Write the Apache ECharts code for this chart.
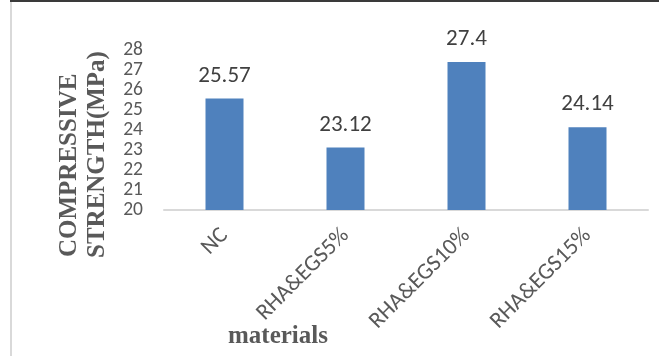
<!DOCTYPE html>
<html>
<head>
<meta charset="utf-8">
<script src="https://cdn.jsdelivr.net/npm/echarts@6/dist/echarts.min.js"></script>
<style>
  html, body { margin: 0; padding: 0; background: #fff; }
  #chart { width: 659px; height: 356px; }
</style>
</head>
<body>
<div id="chart"></div>
<script>
// Compressive strength per mix
const categories = ['NC', 'RHA&EGS5%', 'RHA&EGS10%', 'RHA&EGS15%'];
const strength = [25.57, 23.12, 27.4, 24.14];
const yTicks = { min: 20, max: 28, step: 1 };
const yTitleLines = ['COMPRESSIVE', 'STRENGTH(MPa)'];
const xTitle = 'materials';

const sans = "Carlito, 'Open Sans', sans-serif";
const serif = "'Liberation Serif', 'Times New Roman', serif";

const chart = echarts.init(document.getElementById('chart'), null, { renderer: 'canvas' });

chart.setOption({
  backgroundColor: '#ffffff',
  animation: false,
  grid: { left: 164, right: 11, top: 50, bottom: 146, containLabel: false },
  xAxis: {
    type: 'category',
    data: categories,
    axisLine: { show: true, lineStyle: { color: '#d9d9d9', width: 2 } },
    axisTick: { show: false },
    axisLabel: {
      rotate: 45,
      margin: 22,
      color: '#595959',
      fontFamily: sans,
      fontSize: 23,
      interval: 0
    },
    splitLine: { show: false }
  },
  yAxis: {
    type: 'value',
    min: yTicks.min,
    max: yTicks.max,
    interval: yTicks.step,
    axisLine: { show: false },
    axisTick: { show: false },
    splitLine: { show: false },
    axisLabel: {
      margin: 21,
      showMinLabel: true,
      showMaxLabel: true,
      color: '#595959',
      fontFamily: sans,
      // kept just under the 20px tick spacing so every label stays visible
      fontSize: 19.5
    }
  },
  series: [{
    type: 'bar',
    data: strength,
    barWidth: 38,
    itemStyle: { color: '#4f81bd' },
    label: {
      show: true,
      position: 'top',
      distance: 11,
      color: '#404040',
      fontFamily: sans,
      fontSize: 23
    }
  }],
  graphic: [
    // frame edges
    { type: 'rect', shape: { x: 10, y: 0, width: 649, height: 2 }, style: { fill: '#3a3a3a' }, silent: true },
    { type: 'rect', shape: { x: 10, y: 2, width: 2, height: 354 }, style: { fill: '#d9d9d9' }, silent: true },
    // y-axis title, two lines reading upward
    {
      type: 'text', x: 70, y: 257, rotation: Math.PI / 2,
      style: { text: yTitleLines[0], fill: '#595959', font: 'bold 25px ' + serif, align: 'left', verticalAlign: 'middle' }
    },
    {
      type: 'text', x: 98, y: 258, rotation: Math.PI / 2,
      style: { text: yTitleLines[1], fill: '#595959', font: 'bold 25px ' + serif, align: 'left', verticalAlign: 'middle' }
    },
    // x-axis title
    {
      type: 'text', x: 278, y: 337,
      style: { text: xTitle, fill: '#595959', font: 'bold 25px ' + serif, align: 'center', verticalAlign: 'middle' }
    }
  ]
});
</script>
</body>
</html>
